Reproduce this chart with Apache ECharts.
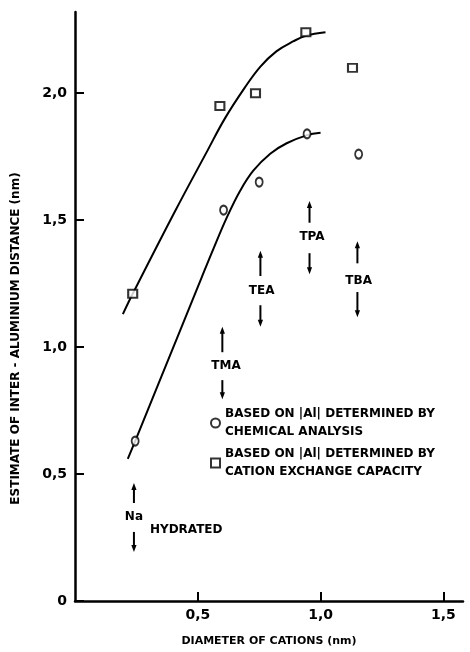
<!DOCTYPE html>
<html>
<head>
<meta charset="utf-8">
<script src="https://cdn.jsdelivr.net/npm/echarts@6/dist/echarts.min.js"></script>
<style>
html,body{margin:0;padding:0;background:#fff;}
#chart{width:470px;height:652px;}
</style>
</head>
<body>
<div id="chart"></div>
<script>
// ---- data ----
const xTicks = [0.5, 1.0, 1.5];
const xTickLabels = ['0,5', '1,0', '1,5'];
const yTicks = [0, 0.5, 1.0, 1.5, 2.0];
const yTickLabels = ['0', '0,5', '1,0', '1,5', '2,0'];

// Points: based on [Al] determined by chemical analysis (circles)
const chemX = [0.245, 0.605, 0.75, 0.945, 1.155];
const chemY = [0.63, 1.54, 1.65, 1.84, 1.76];
// Points: based on [Al] determined by cation exchange capacity (squares)
const cecX = [0.235, 0.59, 0.735, 0.94, 1.13];
const cecY = [1.21, 1.95, 2.0, 2.24, 2.10];

// Hand-drawn fitted curves
const upperCurveX = [0.195, 0.235, 0.41, 0.54, 0.61, 0.69, 0.755, 0.82, 0.89, 0.94, 1.02];
const upperCurveY = [1.13, 1.21, 1.54, 1.775, 1.9, 2.02, 2.105, 2.165, 2.205, 2.226, 2.24];
const lowerCurveX = [0.215, 0.245, 0.43, 0.516, 0.564, 0.618, 0.672, 0.726, 0.795, 0.862, 0.943, 1.0];
const lowerCurveY = [0.56, 0.63, 1.07, 1.275, 1.388, 1.51, 1.615, 1.695, 1.762, 1.803, 1.834, 1.844];

// Cation markers (diameter ranges shown as arrows)
const cations = ['Na', 'TMA', 'TEA', 'TPA', 'TBA'];
const cationX = [0.24, 0.60, 0.755, 0.955, 1.15];
const labelX = [0.24, 0.615, 0.76, 0.965, 1.155];
const labelY = [0.33, 0.925, 1.22, 1.435, 1.26];
const upTail = [0.386, 0.98, 1.28, 1.49, 1.33];
const upTip = [0.465, 1.08, 1.38, 1.576, 1.417];
const downTail = [0.272, 0.87, 1.165, 1.37, 1.217];
const downTip = [0.193, 0.795, 1.08, 1.287, 1.118];
const noteText = 'HYDRATED';
const noteX = 0.305;
const noteY = 0.28;

const chemName = 'BASED ON |Al| DETERMINED BY\nCHEMICAL ANALYSIS';
const cecName = 'BASED ON |Al| DETERMINED BY\nCATION EXCHANGE CAPACITY';
const xName = 'DIAMETER OF CATIONS (nm)';
const yName = 'ESTIMATE OF INTER - ALUMINIUM DISTANCE (nm)';

// ---- chart ----
const FONT = "'DejaVu Sans', sans-serif";
const zip = (a, b) => a.map((v, i) => [v, b[i]]);
const fmt = (labels, ticks) => (v) => {
  const i = ticks.findIndex(t => Math.abs(t - v) < 1e-6);
  return i >= 0 ? labels[i] : '';
};

const chart = echarts.init(document.getElementById('chart'), null, {renderer: 'canvas'});

const arrowData = cations.map((n, i) => [cationX[i], upTail[i], upTip[i], downTail[i], downTip[i]]);
const labelData = cations.map((n, i) => ({value: [labelX[i], labelY[i]], name: n, align: 'center'}))
  .concat([{value: [noteX, noteY], name: noteText, align: 'left'}]);

function arrow(api, x, tail, tip) {
  const a = api.coord([x, tail]);
  const b = api.coord([x, tip]);
  const d = b[1] < a[1] ? 1 : -1; // 1: pointing up
  const hl = 7, hw = 2.6;
  return [
    {type: 'line', shape: {x1: a[0], y1: a[1], x2: b[0], y2: b[1] + d * hl * 0.6},
     style: {stroke: '#000', lineWidth: 2}},
    {type: 'polygon', shape: {points: [[b[0], b[1]], [b[0] - hw, b[1] + d * hl], [b[0] + hw, b[1] + d * hl]]},
     style: {fill: '#000'}}
  ];
}

const option = {
  animation: false,
  backgroundColor: '#fff',
  grid: {left: 75, right: 7, top: 12, bottom: 51, containLabel: false},
  legend: {
    data: [chemName, cecName],
    orient: 'vertical',
    left: 205,
    top: 391,
    itemWidth: 9,
    itemHeight: 9,
    itemGap: -14,
    selectedMode: false,
    textStyle: {fontFamily: FONT, fontSize: 12, fontWeight: 'bold', color: '#000', lineHeight: 18, padding: [18, 0, 0, 0]}
  },
  xAxis: {
    type: 'value', min: 0, max: 1.58,
    name: xName, nameLocation: 'middle', nameGap: 35,
    nameTextStyle: {fontFamily: FONT, fontSize: 11, fontWeight: 'bold', color: '#000'},
    axisLine: {show: true, lineStyle: {color: '#000', width: 2.5}},
    axisTick: {show: true, inside: true, length: 9, customValues: xTicks, lineStyle: {color: '#000', width: 2}},
    axisLabel: {customValues: xTicks, formatter: fmt(xTickLabels, xTicks), margin: 7,
      fontFamily: FONT, fontSize: 14, fontWeight: 'bold', color: '#000'},
    splitLine: {show: false}
  },
  yAxis: {
    type: 'value', min: 0, max: 2.32,
    name: yName, nameLocation: 'middle', nameGap: 53,
    nameTextStyle: {fontFamily: FONT, fontSize: 12, fontWeight: 'bold', color: '#000', padding: [0, 64, 0, 0]},
    axisLine: {show: true, lineStyle: {color: '#000', width: 2.5}},
    axisTick: {show: true, inside: true, length: 9, customValues: yTicks, lineStyle: {color: '#000', width: 2}},
    axisLabel: {customValues: yTicks, formatter: fmt(yTickLabels, yTicks), margin: 8,
      fontFamily: FONT, fontSize: 14, fontWeight: 'bold', color: '#000'},
    splitLine: {show: false}
  },
  series: [
    {type: 'line', name: 'upper', data: zip(upperCurveX, upperCurveY), smooth: 0.4, showSymbol: false,
     lineStyle: {color: '#000', width: 2}, silent: true, z: 2},
    {type: 'line', name: 'lower', data: zip(lowerCurveX, lowerCurveY), smooth: 0.4, showSymbol: false,
     lineStyle: {color: '#000', width: 2}, silent: true, z: 2},
    {type: 'scatter', name: chemName, data: zip(chemX, chemY), symbol: 'circle', symbolSize: [7, 9],
     itemStyle: {color: '#fff', borderColor: '#000', borderWidth: 2}, z: 5},
    {type: 'scatter', name: cecName, data: zip(cecX, cecY), symbol: 'rect', symbolSize: [9, 8],
     itemStyle: {color: '#fff', borderColor: '#000', borderWidth: 2}, z: 5},
    {type: 'custom', name: 'arrows', data: arrowData, silent: true, z: 4,
     renderItem: (params, api) => {
       const x = api.value(0);
       return {type: 'group', children: arrow(api, x, api.value(1), api.value(2)).concat(arrow(api, x, api.value(3), api.value(4)))};
     }},
    {type: 'custom', name: 'cationLabels', data: labelData, silent: true, z: 4,
     renderItem: (params, api) => {
       const p = api.coord([api.value(0), api.value(1)]);
       const item = labelData[params.dataIndex];
       return {type: 'text', x: p[0], y: p[1],
         style: {text: item.name, textAlign: item.align, textVerticalAlign: 'middle',
           font: "bold 12px 'DejaVu Sans', sans-serif", fill: '#000'}};
     }}
  ]
};
chart.setOption(option);
</script>
</body>
</html>
